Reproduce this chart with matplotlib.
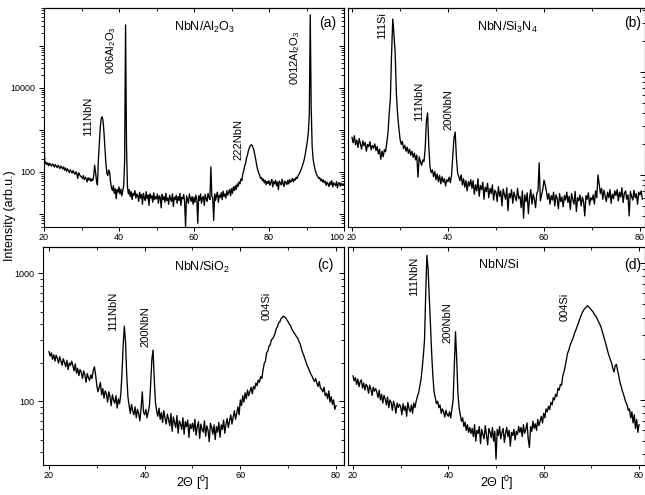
import numpy as np
import matplotlib
matplotlib.use("Agg")
import matplotlib.pyplot as plt
from matplotlib.ticker import LogLocator, NullFormatter, MultipleLocator

plt.rcParams['font.family'] = ['Liberation Sans', 'DejaVu Sans']
plt.rcParams['mathtext.fontset'] = 'custom'
plt.rcParams['mathtext.rm'] = 'Liberation Sans'
plt.rcParams['mathtext.it'] = 'Liberation Sans:italic'
plt.rcParams['axes.linewidth'] = 0.8

# scan step of the diffractometer (degrees 2theta), all scans start at 20
step = 0.25
start = 20.0

# (a) NbN/Al2O3, 20..100
counts_a = [
    520, 158, 171, 149, 166, 140, 160, 152, 137, 155, 146, 131, 150, 138, 127, 144, 133, 121, 139, 128,
    118, 132, 110, 124, 104, 119, 108, 97, 113, 102, 94, 108, 96, 88, 101, 91, 70, 95, 86, 79,
    78, 70, 82, 66, 75, 69, 58, 73, 64, 71, 60, 68, 63, 80, 145, 98, 62, 49, 190, 460,
    1150, 1850, 2070, 1650, 850, 360, 160, 95, 82, 112, 98, 58, 42, 36, 47, 31, 40, 23, 38, 33,
    44, 30, 39, 27, 36, 48, 180, 316000, 420, 45, 30, 38, 26, 34, 22, 31, 28, 36, 24, 30,
    27, 20, 33, 24, 29, 17, 31, 25, 21, 34, 23, 28, 16, 30, 24, 27, 19, 32, 22, 26,
    23, 30, 18, 27, 25, 14, 29, 22, 26, 19, 31, 21, 24, 17, 28, 23, 20, 30, 15, 25,
    22, 28, 18, 26, 21, 31, 16, 25, 23, 29, 19, 5, 27, 22, 18, 30, 24, 20, 26, 17,
    25, 19, 28, 22, 6, 27, 21, 30, 18, 24, 26, 16, 29, 23, 20, 31, 25, 22, 132, 27,
    24, 7, 30, 21, 27, 33, 19, 28, 25, 32, 22, 35, 26, 30, 24, 36, 28, 33, 38, 27,
    40, 31, 44, 36, 47, 38, 52, 45, 58, 52, 68, 62, 90, 105, 138, 160, 215, 250, 320, 370,
    420, 445, 430, 380, 320, 250, 190, 140, 112, 95, 84, 70, 74, 62, 68, 55, 63, 50, 60, 53,
    62, 48, 57, 66, 44, 59, 52, 64, 47, 58, 38, 61, 55, 49, 67, 53, 45, 60, 56, 50,
    63, 52, 66, 57, 61, 70, 58, 68, 64, 75, 70, 82, 88, 98, 110, 125, 150, 175, 220, 290,
    400, 560, 900, 2400, 550000, 3500, 420, 210, 150, 118, 97, 85, 78, 70, 74, 62, 68, 58, 65, 55,
    60, 48, 57, 52, 45, 58, 50, 62, 44, 55, 51, 47, 59, 42, 53, 56, 46, 54, 49, 52,
    50,
]

# (b) NbN/Si3N4, 20..80.5
counts_b = [
    232, 205, 240, 196, 218, 185, 226, 200, 178, 214, 192, 207, 170, 198, 188, 210, 175, 193, 182, 200,
    172, 189, 160, 178, 142, 170, 150, 176, 168, 205, 255, 390, 550, 1500, 3270, 2300, 1500, 620, 390, 290,
    225, 198, 212, 180, 194, 170, 186, 162, 178, 155, 170, 148, 163, 140, 156, 95, 150, 135, 124, 140,
    135, 180, 330, 400, 190, 120, 105, 112, 96, 108, 90, 102, 86, 99, 82, 96, 85, 92, 78, 90,
    86, 95, 84, 100, 150, 230, 261, 150, 105, 96, 88, 100, 80, 92, 76, 88, 70, 86, 78, 90,
    74, 88, 65, 80, 70, 92, 62, 79, 72, 85, 58, 76, 69, 83, 60, 74, 66, 80, 57, 71,
    68, 55, 77, 62, 70, 50, 73, 64, 58, 75, 45, 66, 60, 72, 53, 68, 61, 56, 74, 59,
    62, 48, 70, 38, 64, 55, 67, 42, 60, 72, 52, 65, 58, 48, 66, 70, 131, 56, 64, 72,
    89, 80, 70, 58, 66, 52, 63, 57, 68, 50, 64, 59, 47, 66, 55, 61, 49, 63, 57, 68,
    54, 62, 46, 66, 58, 52, 69, 44, 60, 56, 64, 50, 61, 55, 40, 63, 58, 67, 51, 60,
    57, 64, 52, 70, 60, 100, 82, 66, 74, 58, 71, 62, 55, 68, 60, 72, 53, 65, 59, 70,
    63, 72, 56, 68, 61, 75, 54, 66, 70, 58, 64, 40, 69, 62, 57, 71, 60, 66, 52, 68,
    64, 70, 58,
]

# (c) NbN/SiO2, 20..80
counts_c = [
    243, 225, 238, 212, 230, 205, 228, 215, 198, 222, 206, 190, 214, 200, 185, 208, 176, 198, 190, 205,
    188, 172, 195, 165, 180, 158, 176, 168, 150, 172, 160, 140, 164, 152, 145, 160, 150, 172, 185, 160,
    132, 118, 128, 140, 112, 125, 105, 120, 114, 98, 118, 108, 92, 112, 102, 96, 110, 88, 104, 95,
    112, 160, 270, 385, 290, 160, 108, 92, 80, 94, 84, 78, 90, 74, 86, 80, 70, 88, 118, 82,
    78, 86, 74, 82, 92, 135, 210, 250, 150, 98, 84, 76, 88, 72, 81, 68, 84, 73, 66, 79,
    72, 64, 80, 58, 75, 68, 62, 77, 56, 70, 66, 60, 74, 55, 69, 63, 71, 52, 66, 61,
    67, 58, 72, 54, 63, 69, 51, 66, 60, 57, 70, 53, 64, 59, 48, 67, 62, 55, 65, 50,
    63, 57, 68, 52, 65, 60, 71, 56, 66, 73, 62, 70, 78, 66, 75, 84, 72, 80, 90, 78,
    102, 92, 110, 98, 116, 104, 122, 110, 118, 128, 114, 130, 124, 138, 132, 146, 140, 155, 150, 175,
    197, 205, 238, 246, 268, 275, 302, 306, 320, 336, 368, 380, 408, 415, 442, 448, 462, 452, 447, 428,
    417, 398, 390, 365, 352, 340, 330, 318, 310, 292, 280, 258, 240, 228, 214, 200, 188, 180, 170, 162,
    156, 148, 142, 150, 138, 130, 142, 126, 124, 118, 128, 110, 115, 104, 120, 98, 108, 94, 102, 86,
    92,
]

# (d) NbN/Si, 20..80
counts_d = [
    150, 138, 146, 130, 142, 125, 136, 140, 122, 133, 118, 130, 126, 112, 128, 120, 108, 124, 116, 121,
    114, 104, 118, 100, 110, 95, 108, 102, 92, 105, 88, 100, 96, 84, 98, 91, 80, 95, 88, 93,
    89, 78, 94, 84, 90, 76, 96, 86, 82, 92, 80, 95, 88, 98, 106, 112, 125, 140, 168, 210,
    274, 600, 1140, 900, 560, 340, 220, 150, 115, 104, 94, 98, 88, 92, 80, 86, 82, 75, 84, 78,
    76, 82, 74, 86, 100, 180, 315, 200, 112, 88, 78, 70, 74, 64, 69, 60, 66, 58, 63, 57,
    62, 54, 66, 50, 60, 57, 64, 48, 61, 56, 52, 65, 55, 47, 62, 58, 53, 63, 50, 59,
    37, 61, 55, 64, 52, 58, 62, 49, 57, 63, 54, 60, 46, 58, 55, 61, 51, 59, 56, 64,
    58, 63, 54, 66, 57, 61, 68, 52, 45, 64, 59, 70, 62, 67, 60, 72, 65, 70, 76, 68,
    80, 74, 86, 82, 90, 85, 96, 92, 104, 100, 110, 106, 122, 118, 130, 128, 150, 160, 175, 196,
    219, 230, 248, 262, 274, 290, 310, 325, 343, 362, 385, 405, 429, 445, 460, 470, 480, 488, 475, 468,
    454, 445, 430, 418, 406, 390, 372, 358, 343, 320, 300, 280, 259, 240, 222, 208, 196, 186, 170, 160,
    178, 182, 164, 150, 134, 126, 116, 110, 102, 96, 92, 84, 86, 74, 82, 68, 78, 62, 72, 58,
    66,
]

titles = ['NbN/Al$_2$O$_3$', 'NbN/Si$_3$N$_4$', 'NbN/SiO$_2$', 'NbN/Si']
letters = ['(a)', '(b)', '(c)', '(d)']
peaks_a = ['111NbN', '006Al$_2$O$_3$', '222NbN', '0012Al$_2$O$_3$']
peaks_b = ['111Si', '111NbN', '200NbN']
peaks_c = ['111NbN', '200NbN', '004Si']
peaks_d = ['111NbN', '200NbN', '004Si']

W, H = 645, 495
fig = plt.figure(figsize=(W / 100, H / 100), dpi=100)


def box(l, r, t, b):
    return [l / W, 1 - b / H, (r - l) / W, (b - t) / H]


def panel(rect, counts, xlim, ylim, majors, majlabels, xmajor, left_labels):
    ax = fig.add_axes(rect)
    x = start + step * np.arange(len(counts))
    ax.plot(x, counts, color='k', lw=0.95)
    ax.set_yscale('log')
    ax.set_xlim(*xlim)
    ax.set_ylim(*ylim)
    ax.set_xticks(xmajor)
    ax.xaxis.set_minor_locator(MultipleLocator(10))
    ax.tick_params(axis='x', which='major', direction='out', length=3, width=0.7, labelsize=6.5, pad=1.5, top=False)
    ax.tick_params(axis='x', which='minor', direction='out', length=2, width=0.6, top=False)
    sx = ax.secondary_xaxis('top')
    sx.set_xticks(xmajor)
    sx.xaxis.set_minor_locator(MultipleLocator(10))
    sx.tick_params(which='major', direction='in', length=3, width=0.7, labeltop=False)
    sx.tick_params(which='minor', direction='in', length=2, width=0.6)
    minor = LogLocator(base=10, subs=np.arange(2, 10))
    if left_labels:
        ax.set_yticks(majors)
        ax.set_yticklabels(majlabels)
        ax.yaxis.set_minor_locator(minor)
        ax.yaxis.set_minor_formatter(NullFormatter())
        ax.tick_params(axis='y', which='major', direction='out', length=3.5, width=0.7, labelsize=6.5, pad=2.5, right=False)
        ax.tick_params(axis='y', which='minor', direction='out', length=2, width=0.6, right=False)
    else:
        ax.tick_params(axis='y', which='both', left=False, labelleft=False, right=False)
    sy = ax.secondary_yaxis('right')
    sy.set_yticks(majors)
    sy.yaxis.set_minor_locator(LogLocator(base=10, subs=np.arange(2, 10)))
    sy.yaxis.set_minor_formatter(NullFormatter())
    sy.tick_params(which='major', direction='in', length=3.5, width=0.7, labelright=False)
    sy.tick_params(which='minor', direction='in', length=2, width=0.6)
    return ax


ax_a = panel(box(44, 344, 8, 227), counts_a, (20, 100), (4.9, 8.0e5),
             [10, 100, 1000, 10000, 100000], ['', '100', '', '10000', ''], [20, 40, 60, 80, 100], True)
ax_b = panel(box(348, 645, 8, 227), counts_b, (19.17, 81.05), (31.2, 4180),
             [10, 100, 1000, 10000], ['', '', '', ''], [20, 40, 60, 80], False)
ax_c = panel(box(43, 344, 247, 465), counts_c, (18.75, 81.67), (31.6, 1600),
             [100, 1000], ['100', '1000'], [20, 40, 60, 80], True)
ax_d = panel(box(348, 645, 247, 465), counts_d, (18.95, 81.25), (33.5, 1310),
             [100, 1000], ['', ''], [20, 40, 60, 80], False)

# keep the "100" of (a) clear of the "20" of (b)
ax_a.get_xticklabels()[-1].set_horizontalalignment('right')

axes = [ax_a, ax_b, ax_c, ax_d]
title_pos = [(0.537, 0.913), (0.537, 0.913), (0.528, 0.908), (0.507, 0.917)]
letter_pos = [(0.947, 0.93), (0.96, 0.93), (0.937, 0.917), (0.96, 0.917)]
for ax, t, tp, lt, lp in zip(axes, titles, title_pos, letters, letter_pos):
    ax.text(tp[0], tp[1], t, transform=ax.transAxes, ha='center', va='center', fontsize=9)
    ax.text(lp[0], lp[1], lt, transform=ax.transAxes, ha='center', va='center', fontsize=10)

peak_pos = [
    [(31.8, 2150), (38.0, 80000), (71.8, 580), (86.9, 52000)],
    [(26.2, 2800), (34.0, 520), (40.0, 430)],
    [(33.4, 500), (40.1, 385), (65.6, 550)],
    [(32.8, 800), (39.9, 365), (64.4, 477)],
]
for ax, names, pos in zip(axes, [peaks_a, peaks_b, peaks_c, peaks_d], peak_pos):
    for name, (px, py) in zip(names, pos):
        ax.text(px, py, name, rotation=90, ha='center', va='center', fontsize=8)

for xc in (193, 497):
    fig.text(xc / W, 3 / H, '2\u0398 [$^0$]', ha='center', va='bottom', fontsize=9)

fig.text(10 / W, 1 - 216 / H, 'Intensity (arb.u.)', rotation=90, ha='center', va='center', fontsize=9)

fig.savefig('out.png', dpi=100)
